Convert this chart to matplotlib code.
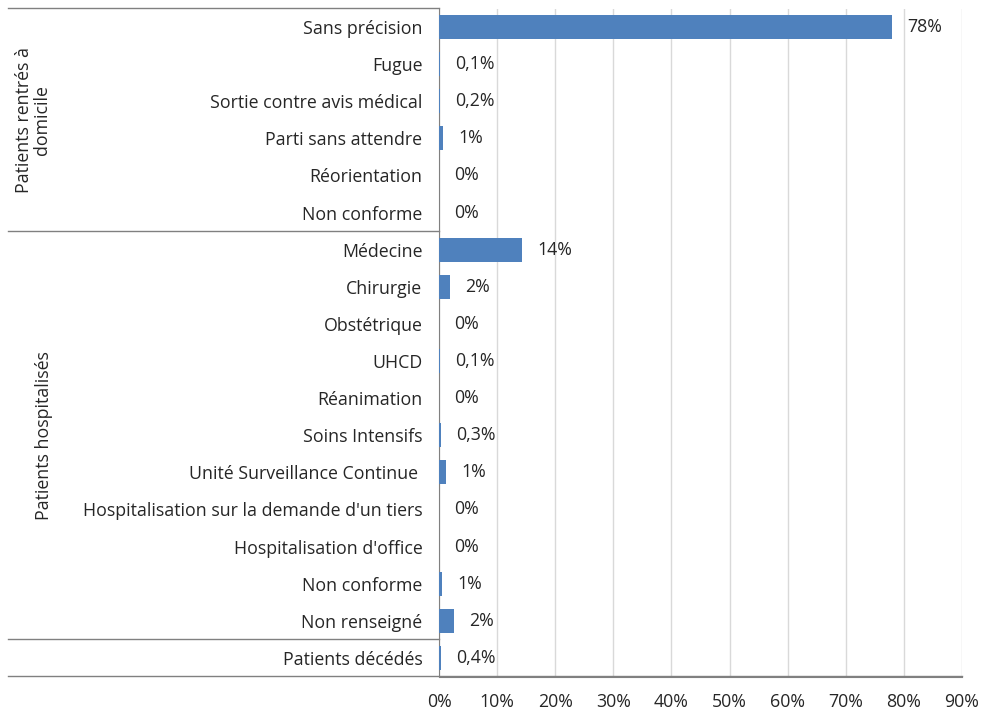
import matplotlib
matplotlib.use('Agg')
from matplotlib import pyplot as plt
from matplotlib.transforms import blended_transform_factory
import numpy as np

plt.rcParams['font.family'] = ['Open Sans', 'DejaVu Sans']

categories = ['Sans précision', 'Fugue', 'Sortie contre avis médical', 'Parti sans attendre',
              'Réorientation', 'Non conforme',
              'Médecine', 'Chirurgie', 'Obstétrique', 'UHCD', 'Réanimation', 'Soins Intensifs',
              'Unité Surveillance Continue ', "Hospitalisation sur la demande d'un tiers",
              "Hospitalisation d'office", 'Non conforme', 'Non renseigné',
              'Patients décédés']
values = [78.0, 0.1, 0.2, 0.7, 0.0, 0.0,
          14.3, 1.9, 0.0, 0.1, 0.0, 0.3, 1.2, 0.0, 0.0, 0.5, 2.6,
          0.4]
value_labels = ['78%', '0,1%', '0,2%', '1%', '0%', '0%',
                '14%', '2%', '0%', '0,1%', '0%', '0,3%', '1%', '0%', '0%', '1%', '2%',
                '0,4%']
groups = [('Patients rentrés à\ndomicile', 0, 5), ('Patients hospitalisés', 6, 16)]
xticks = [0, 10, 20, 30, 40, 50, 60, 70, 80, 90]

fs = 12.8
fig = plt.figure(figsize=(9.83, 7.13), dpi=100)
ax = fig.add_axes([439 / 983, 36.5 / 713, 523 / 983, 668 / 713])

y = np.arange(len(categories))
ax.barh(y, values, height=0.65, color='#4F81BD', zorder=3)
ax.set_xlim(0, 90)
ax.set_ylim(len(categories) - 0.5, -0.5)
ax.set_xticks(xticks)
ax.set_xticklabels([f'{t}%' for t in xticks], fontsize=fs, color='#262626')
ax.set_yticks(y)
ax.set_yticklabels(categories, fontsize=fs, color='#262626')
ax.tick_params(axis='x', length=0, pad=12)
ax.tick_params(axis='y', length=0, pad=12)
ax.grid(axis='x', color='#d9d9d9', lw=1, zorder=0)
for s in ['top', 'right']:
    ax.spines[s].set_visible(False)
ax.spines['left'].set_color('#808080')
ax.spines['bottom'].set_color('#808080')

for yi, v, lab in zip(y, values, value_labels):
    ax.annotate(lab, (v, yi), xytext=(11, 0), textcoords='offset points',
                va='center', ha='left', fontsize=fs, color='#262626')

# group separators and labels on the left
tr = blended_transform_factory(fig.transFigure, ax.transData)
x0 = 8 / 983
x1 = 439 / 983
for yy in [-0.5, 5.5, 16.5]:
    ax.plot([x0, x1], [yy, yy], transform=tr, color='#808080', lw=1, clip_on=False)
ax.plot([x0, 962 / 983], [17.5, 17.5], transform=tr, color='#808080', lw=1, clip_on=False)

ax.text(33 / 983, 2.5, groups[0][0], transform=tr, rotation=90, ha='center', va='center',
        fontsize=fs, color='#262626', multialignment='center', linespacing=1.0)
ax.text(44 / 983, 11, groups[1][0], transform=tr, rotation=90, ha='center', va='center',
        fontsize=fs, color='#262626')

fig.savefig('out.png', dpi=100)
